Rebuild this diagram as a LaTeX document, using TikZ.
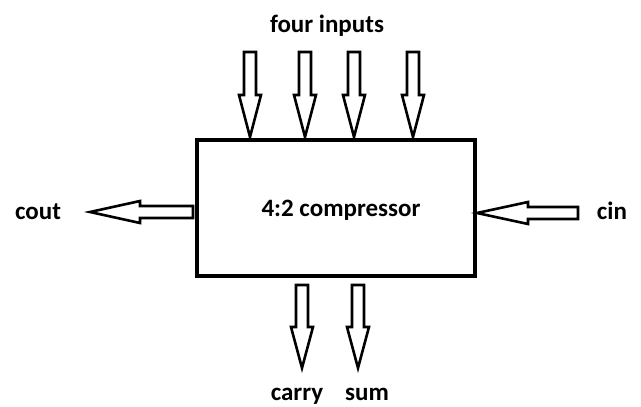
\documentclass[tikz,border=0pt]{standalone}
\usepackage{fontspec}
\setmainfont{Carlito}
\usetikzlibrary{calc}

% block arrow from tail #1 to tip #2, head length #3
\newcommand\blockarrow[3]{%
  \coordinate (hb) at ($(#2)!#3!(#1)$);
  \draw[barrow] ($(#1)!6pt!90:(#2)$) -- ($(hb)!6pt!-90:(#1)$)
    -- ($(hb)!11pt!-90:(#1)$) -- (#2) -- ($(hb)!11pt!90:(#1)$)
    -- ($(hb)!6pt!90:(#1)$) -- ($(#1)!6pt!-90:(#2)$) -- cycle;}

\begin{document}
\begin{tikzpicture}[x=1pt,y=-1pt,
  every node/.style={font=\fontsize{25}{30}\selectfont\bfseries,anchor=base,inner sep=0pt},
  cmpbox/.style={draw,line width=4.5pt,minimum width=278pt,minimum height=136pt,anchor=center},
  barrow/.style={draw,line width=2.6pt,fill=white,line join=miter}
]
\useasboundingbox (0,0) rectangle (641,407);

\node[cmpbox] (cmp) at (336,208) {};
\node (title) at (341,216) {4:2 compressor};

% four inputs
\node (ins) at (327,32) {four inputs};
\foreach \x [count=\i] in {250,305,354,413}{
  \coordinate (in\i t) at (\x,52);
  \coordinate (in\i h) at (\x,137);
  \blockarrow{in\i t}{in\i h}{42pt}
}

% carry in / carry out
\coordinate (cint) at (578,213);
\coordinate (cinh) at (477,213);
\blockarrow{cint}{cinh}{51pt}
\node (cin) at (612,219) {cin};

\coordinate (coutt) at (193,212);
\coordinate (couth) at (90,212);
\blockarrow{coutt}{couth}{50pt}
\node (cout) at (38,219) {cout};

% outputs
\coordinate (cart) at (302,285);
\coordinate (carh) at (302,368);
\blockarrow{cart}{carh}{41pt}
\node (carry) at (297,400) {carry};

\coordinate (sumt) at (358,285);
\coordinate (sumh) at (358,368);
\blockarrow{sumt}{sumh}{41pt}
\node (sum) at (367,400) {sum};
\end{tikzpicture}
\end{document}
